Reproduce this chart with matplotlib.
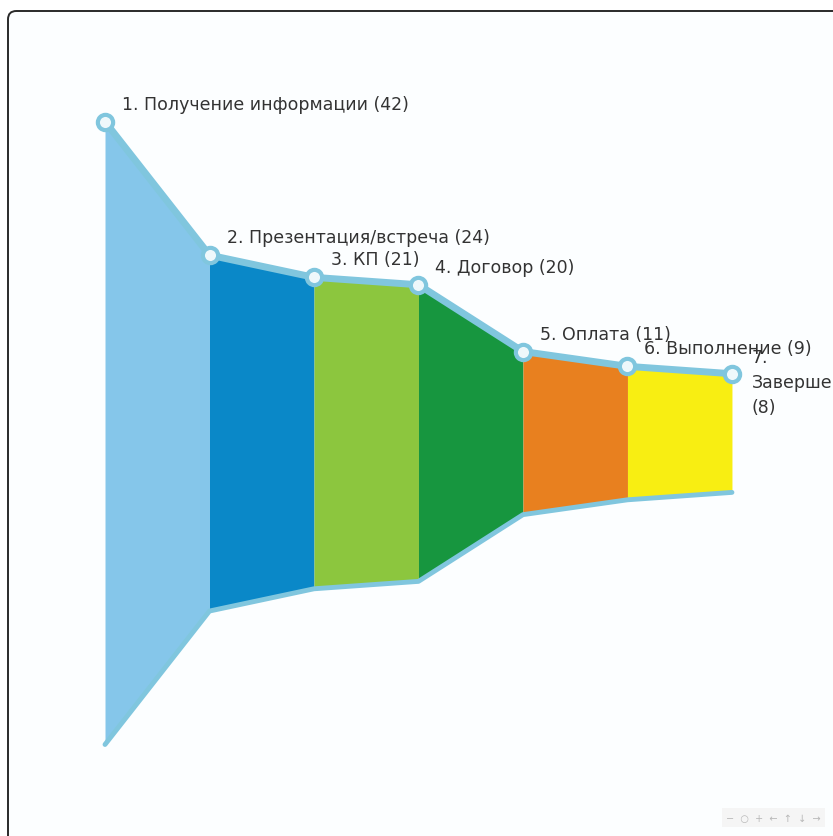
import numpy as np
import matplotlib.pyplot as plt
from matplotlib.patches import FancyBboxPatch

# Funnel stages and counts
stages = [
    "1. Получение информации",
    "2. Презентация/встреча",
    "3. КП",
    "4. Договор",
    "5. Оплата",
    "6. Выполнение",
    "7.\nЗавершение\n",
]
values = [42, 24, 21, 20, 11, 9, 8]
seg_colors = ["#85C6EA", "#0A88C8", "#8CC63E", "#17963F", "#E8801F", "#F8EE12"]

LINE_COLOR = "#80C6DE"
TEXT_COLOR = "#333333"

fig = plt.figure(figsize=(8.33, 8.37), dpi=100)
fig.patch.set_facecolor("white")

# window-like frame (only top and left edges visible)
frame = FancyBboxPatch((8 / 833, -0.05), 1.2, 0.05 + (837 - 12) / 837,
                       boxstyle="round,pad=0,rounding_size=0.01",
                       transform=fig.transFigure, facecolor="#FCFEFF",
                       edgecolor="#2a2a2a", linewidth=1.4, zorder=-1)
fig.patches.append(frame)

ax = fig.add_axes([0, 0, 1, 1])
ax.set_facecolor("none")
ax.set_xlim(-1.005, 6.967)
ax.set_ylim(-27.17, 29.27)
ax.axis("off")

x = np.arange(len(values))
half = np.array(values) / 2.0

# coloured segments between stages
for i, c in enumerate(seg_colors):
    ax.fill_between(x[i:i + 2], -half[i:i + 2], half[i:i + 2],
                    color=c, linewidth=0, zorder=2)

# outline along the top and bottom
ax.plot(x, -half, color=LINE_COLOR, linewidth=3.5, zorder=3,
        solid_capstyle="round", solid_joinstyle="round")
ax.plot(x, half, color=LINE_COLOR, linewidth=5, zorder=4,
        solid_capstyle="round", solid_joinstyle="round")
ax.plot(x, half, linestyle="none", marker="o", markersize=11,
        markerfacecolor="#EEF8FB", markeredgecolor=LINE_COLOR,
        markeredgewidth=3, zorder=5)

# labels
for i, (name, v) in enumerate(zip(stages, values)):
    if i == len(values) - 1:
        ax.annotate(f"{name}({v})", xy=(x[i], half[i]), xytext=(20, -8),
                    textcoords="offset pixels", ha="left", va="center",
                    fontsize=12.5, color=TEXT_COLOR, linespacing=1.5,
                    annotation_clip=False, zorder=6)
    else:
        ax.annotate(f"{name} ({v})", xy=(x[i], half[i]), xytext=(17, 18),
                    textcoords="offset pixels", ha="left", va="center",
                    fontsize=12.5, color=TEXT_COLOR, zorder=6)

# faint toolbar in the corner
fig.text(0.985, 0.022, "−  ○  +  ←  ↑  ↓  →", ha="right", va="center",
         fontsize=7, color="#b8b8b8",
         bbox=dict(facecolor="#f5f5f5", edgecolor="none", pad=3))

fig.savefig("out.png", dpi=100)
